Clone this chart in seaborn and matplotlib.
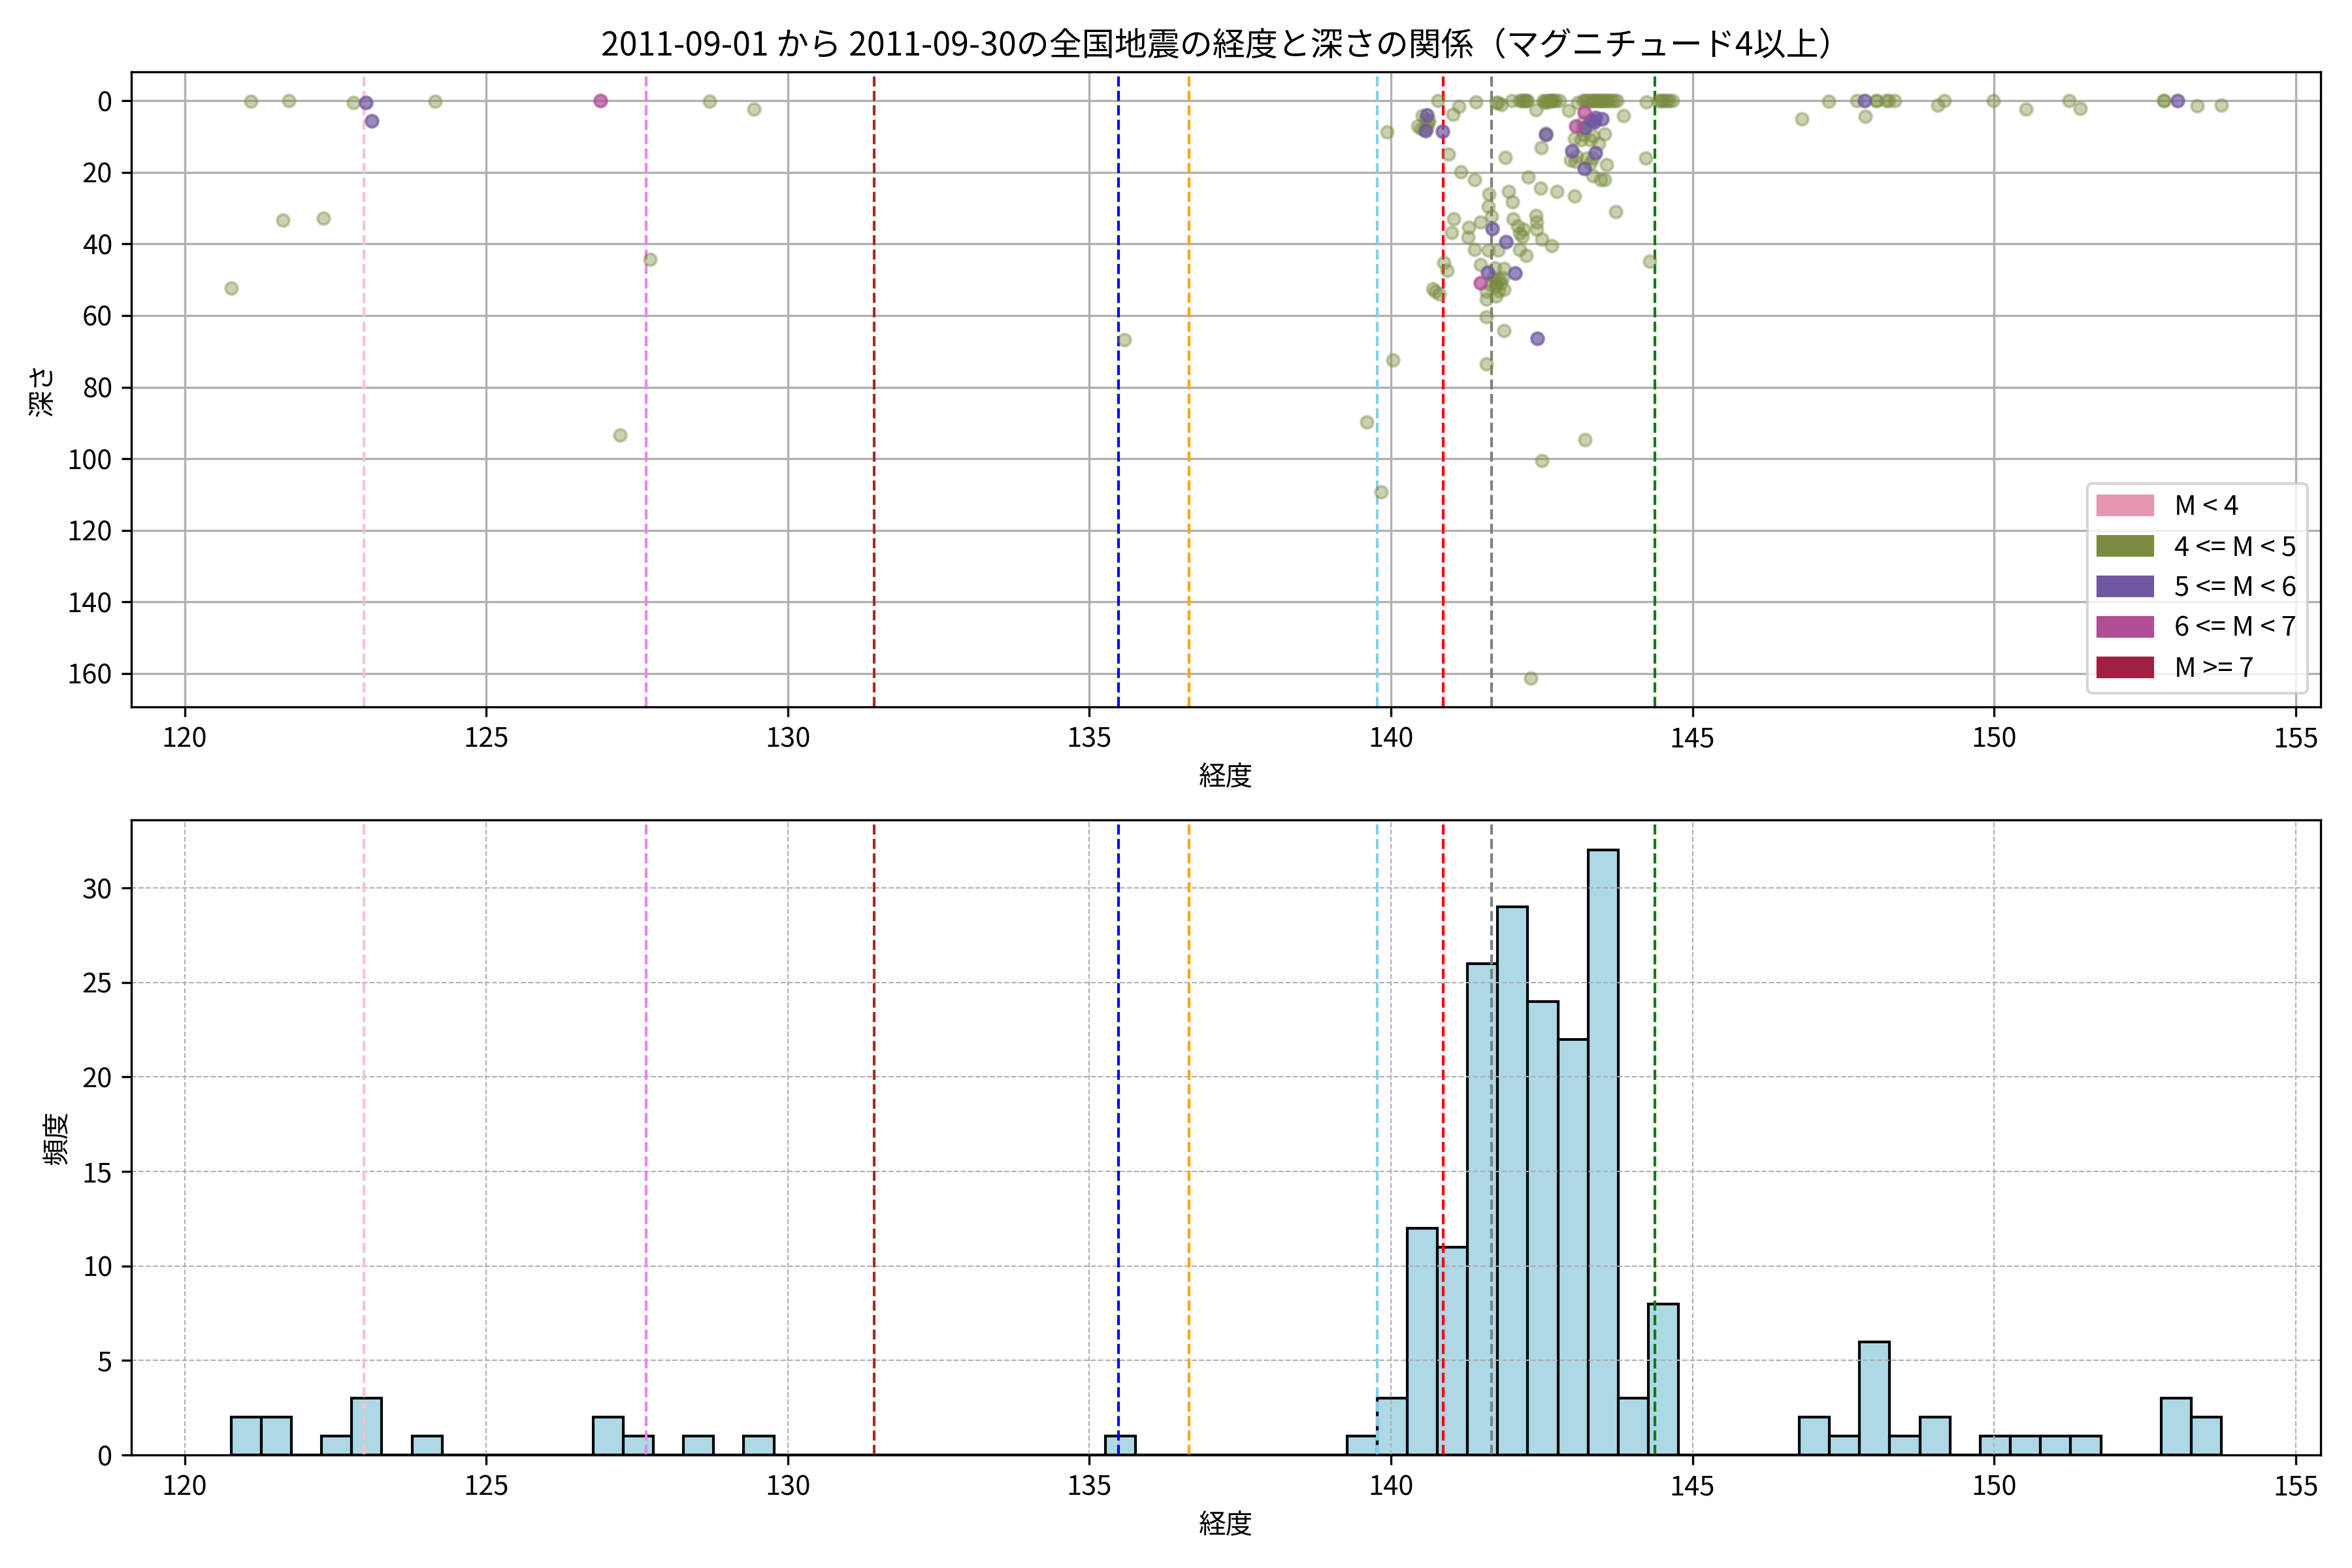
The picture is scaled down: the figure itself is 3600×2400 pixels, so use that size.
import numpy as np
import seaborn as sns
import matplotlib.pyplot as plt
from matplotlib.patches import Patch

plt.rcParams['font.family'] = ['Noto Sans CJK JP', 'DejaVu Sans']

# 4 <= M < 5 (longitude, depth)
lon_m4 = [120.77, 121.10, 121.63, 121.73, 122.30, 122.80, 124.15, 127.22, 127.72, 128.70,
          129.44, 135.58, 139.60, 139.84, 139.94, 140.03,
          140.45, 140.52, 140.62, 140.55, 140.60, 140.63, 140.50, 140.58, 140.69, 140.74,
          140.78, 140.80, 140.88, 140.93, 140.95, 141.01, 141.03, 141.04, 141.13, 141.16,
          141.29, 141.28, 141.39, 141.39, 141.41, 141.48, 141.48, 141.58, 141.58, 141.58,
          141.58, 141.61, 141.62, 141.63, 141.67, 141.72, 141.75, 141.75, 141.75, 141.75,
          141.70, 141.73, 141.66,
          141.78, 141.78, 141.83, 141.87, 141.87, 141.87, 141.90, 141.95, 142.01, 142.02,
          142.03, 142.10, 142.14, 142.14, 142.18, 142.20, 142.24, 142.14, 142.17, 142.20,
          142.22, 142.24, 142.26, 141.80, 141.82, 141.79, 141.85,
          142.28, 142.32, 142.41, 142.41, 142.42, 142.42, 142.48, 142.49, 142.50, 142.50,
          142.57, 142.57, 142.62, 142.65, 142.67, 142.70, 142.73, 142.67, 142.75, 142.52,
          142.55, 142.60,
          142.95, 143.05, 143.22, 143.19, 143.22, 143.25, 143.19, 143.20, 143.05, 143.15,
          143.08, 142.98, 143.06, 143.25, 142.80, 143.10, 143.18,
          143.30, 143.33, 143.36, 143.39, 143.42, 143.45, 143.48, 143.50, 143.53, 143.56,
          143.59, 143.62, 143.66, 143.70, 143.75, 143.30, 143.54, 143.35, 143.30, 143.35,
          143.30, 143.57, 143.35, 143.48, 143.54, 143.73, 143.44,
          143.86, 144.22, 144.24,
          144.29, 144.43, 144.47, 144.50, 144.54, 144.58, 144.62, 144.67,
          146.81, 147.26, 147.72, 147.86, 148.05, 148.05, 148.21, 148.25, 148.35, 149.07,
          149.18, 149.99, 150.53, 151.24, 151.43, 152.81, 152.81, 153.37, 153.77]
dep_m4 = [52.4, 0.2, 33.3, 0.0, 32.9, 0.5, 0.2, 93.5, 44.3, 0.2,
          2.3, 66.8, 89.8, 109.3, 8.8, 72.5,
          7.0, 4.2, 6.2, 8.0, 7.5, 5.5, 7.8, 5.0, 52.6, 53.3,
          0.0, 53.9, 45.3, 47.4, 15.0, 36.9, 3.8, 33.0, 1.6, 19.9,
          35.4, 38.2, 22.1, 41.5, 0.4, 33.9, 45.7, 53.3, 55.4, 60.3,
          73.6, 29.6, 41.8, 26.0, 32.3, 46.6, 50.0, 51.0, 54.5, 0.5,
          49.5, 52.0, 51.5,
          41.8, 0.5, 1.0, 46.9, 52.7, 64.3, 15.9, 25.3, 0.0, 28.3,
          33.0, 35.0, 41.5, 37.0, 38.0, 36.0, 43.3, 0.0, 0.0, 0.0,
          0.0, 0.0, 0.0, 50.0, 51.0, 53.0, 49.5,
          21.4, 161.3, 2.6, 32.0, 34.0, 36.0, 24.4, 13.1, 38.7, 100.6,
          9.0, 0.0, 0.0, 0.0, 0.0, 0.0, 0.0, 40.4, 25.3, 0.0,
          0.5, 0.3,
          2.7, 26.7, 94.6, 0.0, 0.0, 0.0, 6.0, 9.5, 10.5, 11.0,
          15.5, 16.5, 17.0, 16.0, 0.0, 0.5, 8.0,
          0.0, 0.0, 0.0, 0.0, 0.0, 0.0, 0.0, 0.0, 0.0, 0.0,
          0.0, 0.0, 0.0, 0.0, 0.0, 6.0, 9.2, 9.8, 11.0, 16.0,
          17.5, 17.9, 21.0, 22.0, 22.0, 31.0, 12.0,
          4.1, 16.1, 0.3,
          44.8, 0.0, 0.0, 0.0, 0.0, 0.0, 0.0, 0.0,
          5.0, 0.1, 0.0, 4.4, 0.0, 0.0, 0.0, 0.0, 0.0, 1.3,
          0.0, 0.0, 2.4, 0.0, 2.1, 0.0, 0.0, 1.5, 1.2]

# 5 <= M < 6
lon_m5 = [123.00, 123.10, 140.60, 140.57, 140.86, 141.60, 141.68, 141.91, 142.06, 142.43,
          142.57, 143.00, 143.21, 143.22, 143.39, 143.50, 143.37, 143.33, 143.39, 147.85,
          153.04]
dep_m5 = [0.5, 5.6, 4.0, 8.3, 8.6, 48.0, 35.7, 39.3, 48.1, 66.4,
          9.4, 14.1, 19.0, 7.5, 4.7, 5.0, 6.0, 5.5, 14.5, 0.0,
          0.0]

# 6 <= M < 7
lon_m6 = [126.89, 141.48, 143.21, 143.07]
dep_m6 = [0.0, 50.8, 3.2, 7.1]

mag_labels = ['M < 4', '4 <= M < 5', '5 <= M < 6', '6 <= M < 7', 'M >= 7']
mag_colors = ['#e597b2', '#7a8c40', '#7058a0', '#b04d94', '#a02042']

# reference longitudes (dashed lines)
ref_lons = [122.97, 127.65, 131.43, 135.48, 136.65, 139.77, 140.87, 141.67, 144.375]
ref_colors = ['pink', 'violet', 'brown', 'blue', 'orange', 'skyblue', 'red', 'gray', 'green']

all_lons = np.concatenate([lon_m4, lon_m5, lon_m6])

fig, (ax1, ax2) = plt.subplots(2, 1, figsize=(12, 8), dpi=300)

# scatter: longitude vs depth
groups = [(lon_m4, dep_m4, mag_colors[1], 0.4),
          (lon_m5, dep_m5, mag_colors[2], 0.7),
          (lon_m6, dep_m6, mag_colors[3], 0.7)]
for lons, deps, c, a in groups:
    sns.scatterplot(x=lons, y=deps, color=c, alpha=a, s=20,
                    edgecolor=c, linewidth=1, ax=ax1, zorder=3)
for x, c in zip(ref_lons, ref_colors):
    ax1.axvline(x, color=c, linestyle='--', linewidth=1)
ax1.invert_yaxis()
ax1.grid(True)
ax1.set_xlabel('経度')
ax1.set_ylabel('深さ')
ax1.set_title('2011-09-01 から 2011-09-30の全国地震の経度と深さの関係（マグニチュード4以上）', fontsize=12)
handles = [Patch(color=c, label=l) for c, l in zip(mag_colors, mag_labels)]
ax1.legend(handles=handles, loc='lower right')

# histogram of longitudes
sns.histplot(x=all_lons, bins=66, color='lightblue', edgecolor='black',
             alpha=1, linewidth=1, ax=ax2)
for x, c in zip(ref_lons, ref_colors):
    ax2.axvline(x, color=c, linestyle='--', linewidth=1)
ax2.set_xlim(ax1.get_xlim())
ax2.grid(True, linestyle='--', linewidth=0.5)
ax2.set_xlabel('経度')
ax2.set_ylabel('頻度')

plt.tight_layout()
plt.savefig('out.png')
